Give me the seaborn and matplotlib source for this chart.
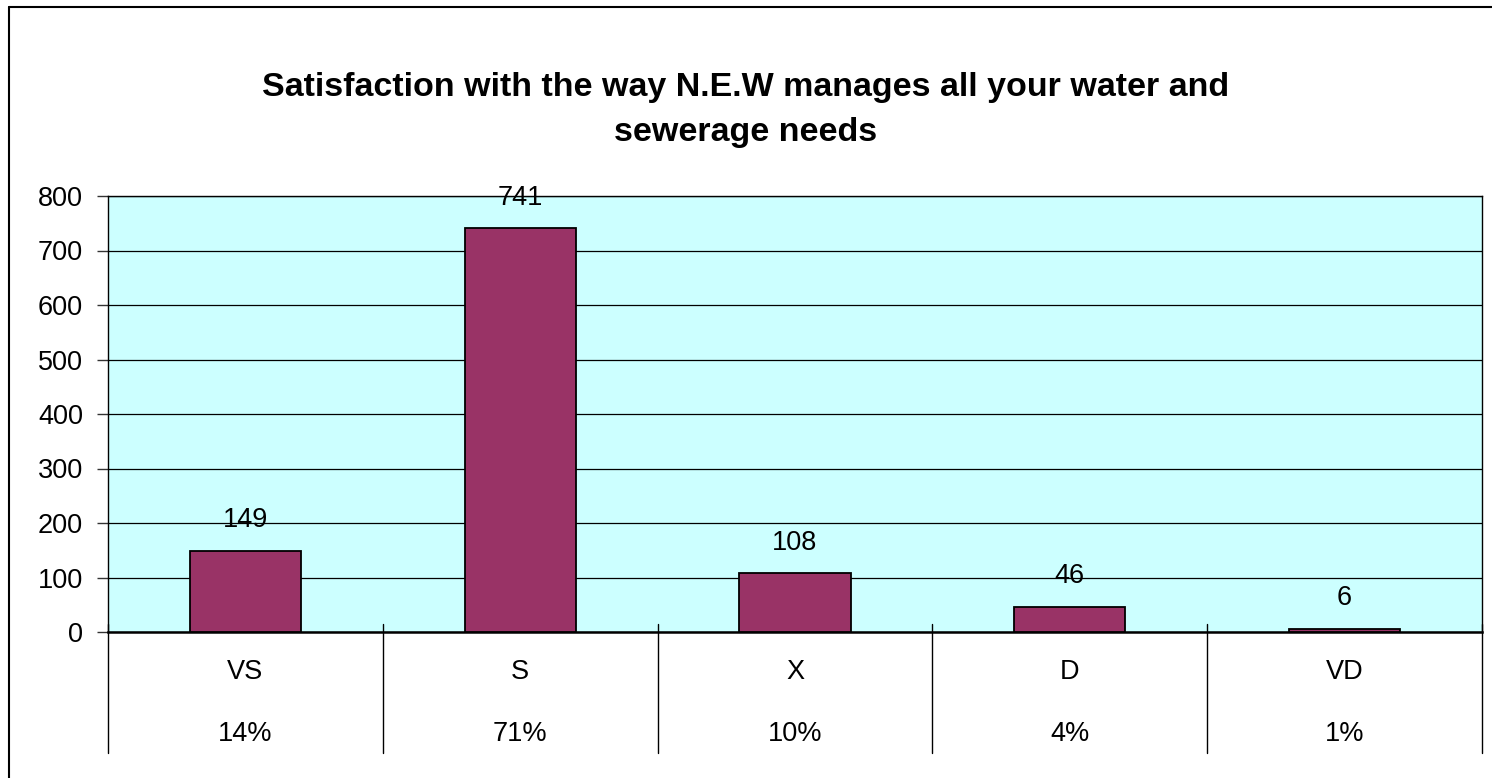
import matplotlib
matplotlib.use("Agg")
import matplotlib.pyplot as plt
import seaborn as sns
import pandas as pd
from matplotlib.lines import Line2D
from matplotlib.transforms import blended_transform_factory

categories = ["VS", "S", "X", "D", "VD"]
counts = [149, 741, 108, 46, 6]
percent_labels = ["14%", "71%", "10%", "4%", "1%"]
title = "Satisfaction with the way N.E.W manages all your water and\nsewerage needs"

sns.set_theme(style="white")
plt.rcParams['font.family'] = ['Liberation Sans', 'DejaVu Sans']
plt.rcParams['text.color'] = 'black'
plt.rcParams['ytick.color'] = 'black'

W, H = 1492, 778
fig = plt.figure(figsize=(W / 100, H / 100), dpi=100)
ax = fig.add_axes([108 / W, 1 - 632 / H, (1482 - 108) / W, (632 - 196) / H])
ax.set_facecolor("#CCFFFF")

df = pd.DataFrame({"cat": categories, "count": counts})
sns.barplot(data=df, x="cat", y="count", color="#993366", edgecolor="black",
            linewidth=1.3, width=0.405, saturation=1, ax=ax, zorder=3)

ax.set_ylim(0, 800)
ax.set_xlim(-0.5, len(categories) - 0.5)
ax.set_yticks(range(0, 801, 100))
ax.yaxis.grid(True, color="black", linewidth=0.9)
ax.set_axisbelow(True)
for s in ax.spines.values():
    s.set_visible(True)
    s.set_color("black")
    s.set_linewidth(1.0)
ax.spines["bottom"].set_linewidth(1.8)
ax.tick_params(axis="y", direction="out", length=8, width=1, color="#333333",
               labelsize=19.5, pad=10, left=True, labelcolor="black")
ax.tick_params(axis="x", bottom=False, labelbottom=False)
ax.set_xlabel("")
ax.set_ylabel("")

for i, v in enumerate(counts):
    ax.annotate(str(v), (i, v), xytext=(0, 22), textcoords="offset points",
                ha="center", va="center", fontsize=19.5, color="black")

trans = blended_transform_factory(ax.transData, ax.transAxes)
axh = 632 - 196
for b in [i - 0.5 for i in range(len(categories) + 1)]:
    ax.add_line(Line2D([b, b], [8 / axh, -121 / axh], transform=trans,
                       color="black", linewidth=1.0, clip_on=False))
for i, (c, p) in enumerate(zip(categories, percent_labels)):
    ax.text(i, -40 / axh, c, transform=trans, ha="center", va="center",
            fontsize=19.5, color="black")
    ax.text(i, -102 / axh, p, transform=trans, ha="center", va="center",
            fontsize=19.5, color="black")

fig.text(0.5, 1 - 110 / H, title, ha="center", va="center", fontsize=24.5,
         fontweight="bold", linespacing=1.62, color="black")

fig.add_artist(Line2D([9 / W, 1], [1 - 7 / H, 1 - 7 / H], color="black", linewidth=1.5,
                      transform=fig.transFigure))
fig.add_artist(Line2D([9 / W, 9 / W], [0, 1 - 7 / H], color="black", linewidth=1.5,
                      transform=fig.transFigure))

fig.savefig("out.png", dpi=100)
